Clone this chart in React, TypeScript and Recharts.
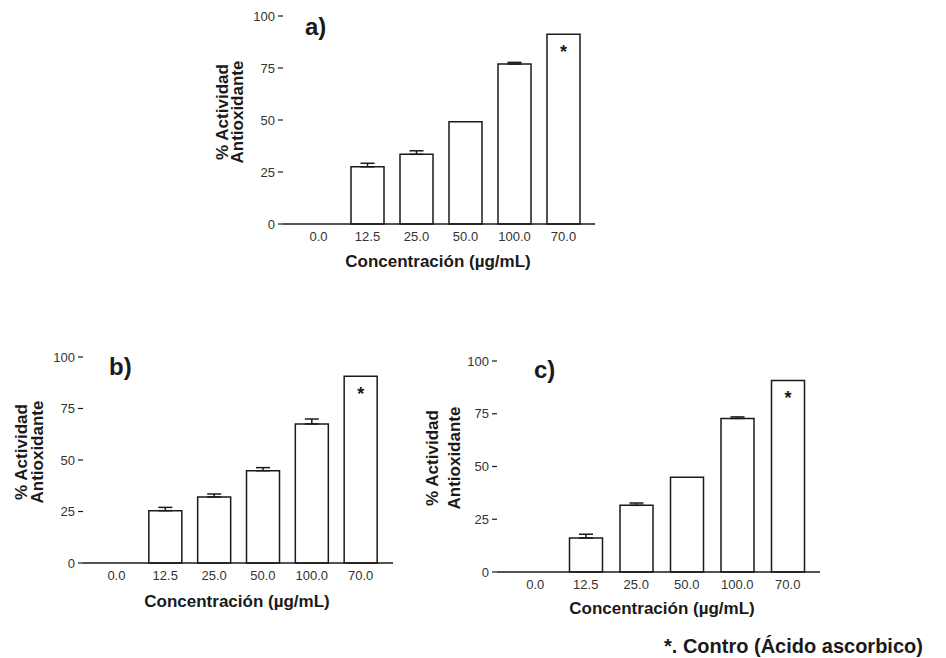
import { BarChart, Bar, XAxis, YAxis, ErrorBar, LabelList } from "recharts"

const categories = ["0.0", "12.5", "25.0", "50.0", "100.0", "70.0"]
const markers = ["", "", "", "", "", "*"]
const yTicks = [0, 25, 50, 75, 100]

const valuesA = [0, 27.5, 33.5, 49.2, 76.9, 91.2]
const errorsA = [0, 1.7, 1.7, 0, 0.8, 0]
const valuesB = [0, 25.4, 32.0, 44.8, 67.5, 90.6]
const errorsB = [0, 1.6, 1.5, 1.5, 2.4, 0]
const valuesC = [0, 16.1, 31.6, 44.9, 72.8, 90.7]
const errorsC = [0, 1.8, 1.1, 0, 0.7, 0]

const FONT = '"Liberation Sans", Arial, sans-serif'
const INK = "#1a1a1a"

function buildRows(values: number[], errors: number[]) {
  return categories.map((name, i) => ({
    name,
    value: values[i],
    // no error bar where the SD is zero
    err: errors[i] > 0 ? [0, errors[i]] : undefined,
    mark: markers[i],
  }))
}

interface PanelProps {
  values: number[]
  errors: number[]
  plotLeft: number
  plotTop: number
  plotW: number
  plotH: number
  padL: number
  padR: number
}

const Y_W = 50
const M_TOP = 10
const M_RIGHT = 6
const X_H = 30

function Panel({ values, errors, plotLeft, plotTop, plotW, plotH, padL, padR }: PanelProps) {
  const data = buildRows(values, errors)
  return (
    <div style={{ position: "absolute", left: plotLeft - Y_W, top: plotTop - M_TOP }}>
      <BarChart
        width={Y_W + plotW + M_RIGHT}
        height={M_TOP + plotH + X_H}
        data={data}
        margin={{ top: M_TOP, right: M_RIGHT, bottom: 0, left: 0 }}
      >
        <XAxis
          dataKey="name"
          height={X_H}
          padding={{ left: padL, right: padR }}
          axisLine={{ stroke: INK, strokeWidth: 1.5 }}
          tickLine={false}
          tickSize={0}
          tickMargin={8}
          tick={{ fontSize: 13, fill: "#333" }}
        />
        <YAxis
          width={Y_W}
          domain={[0, 100]}
          ticks={yTicks}
          axisLine={false}
          tickLine={{ stroke: INK, strokeWidth: 1.2 }}
          tickSize={5}
          tickMargin={3}
          tick={{ fontSize: 13, fill: "#333" }}
        />
        <Bar
          dataKey="value"
          fill="#fff"
          stroke={INK}
          strokeWidth={1.5}
          barSize={33}
          isAnimationActive={false}
        >
          <ErrorBar dataKey="err" width={7} stroke={INK} strokeWidth={1.5} direction="y" />
          <LabelList
            dataKey="mark"
            position="insideTop"
            offset={11}
            style={{ fontSize: 18, fontWeight: 700, fill: INK }}
          />
        </Bar>
      </BarChart>
    </div>
  )
}

function Text({ x, y, size, children }: { x: number; y: number; size: number; children: string }) {
  return (
    <div
      style={{
        position: "absolute",
        left: x,
        top: y - size * 0.6,
        fontSize: size,
        lineHeight: `${size * 1.2}px`,
        fontWeight: 700,
        color: INK,
        whiteSpace: "nowrap",
      }}
    >
      {children}
    </div>
  )
}

function CenterText({ cx, cy, size, children }: { cx: number; cy: number; size: number; children: string }) {
  return (
    <div
      style={{
        position: "absolute",
        left: cx - 150,
        top: cy - size * 0.6,
        width: 300,
        textAlign: "center",
        fontSize: size,
        lineHeight: `${size * 1.2}px`,
        fontWeight: 700,
        color: INK,
      }}
    >
      {children}
    </div>
  )
}

function YTitle({ cx, cy, lineGap }: { cx: number; cy: number; lineGap: number }) {
  const w = 160
  const h = lineGap * 2
  return (
    <div
      style={{
        position: "absolute",
        left: cx - w / 2,
        top: cy - h / 2,
        width: w,
        height: h,
        transform: "rotate(-90deg)",
        textAlign: "center",
        fontSize: 17,
        lineHeight: `${lineGap}px`,
        fontWeight: 700,
        color: INK,
      }}
    >
      <div>% Actividad</div>
      <div>Antioxidante</div>
    </div>
  )
}

export default function App() {
  return (
    <div
      style={{
        position: "absolute",
        left: 0,
        top: 0,
        width: 946,
        height: 658,
        background: "#fff",
        fontFamily: FONT,
        overflow: "hidden",
      }}
    >
      <Panel values={valuesA} errors={errorsA} plotLeft={283} plotTop={16} plotW={312} plotH={208} padL={11} padR={7} />
      <Panel values={valuesB} errors={errorsB} plotLeft={83} plotTop={357} plotW={310} plotH={206} padL={9} padR={8} />
      <Panel values={valuesC} errors={errorsC} plotLeft={497} plotTop={361} plotW={323} plotH={211} padL={13} padR={7} />

      <Text x={305} y={27} size={24}>a)</Text>
      <Text x={109} y={367} size={24}>b)</Text>
      <Text x={534} y={370} size={24}>c)</Text>

      <YTitle cx={230} cy={112} lineGap={15} />
      <YTitle cx={30} cy={452} lineGap={16} />
      <YTitle cx={444} cy={458} lineGap={22} />

      <CenterText cx={438} cy={262} size={17}>Concentración (µg/mL)</CenterText>
      <CenterText cx={237} cy={602} size={17}>Concentración (µg/mL)</CenterText>
      <CenterText cx={662} cy={609} size={17}>Concentración (µg/mL)</CenterText>

      <Text x={664} y={646} size={20}>*. Contro (Ácido ascorbico)</Text>
    </div>
  )
}
